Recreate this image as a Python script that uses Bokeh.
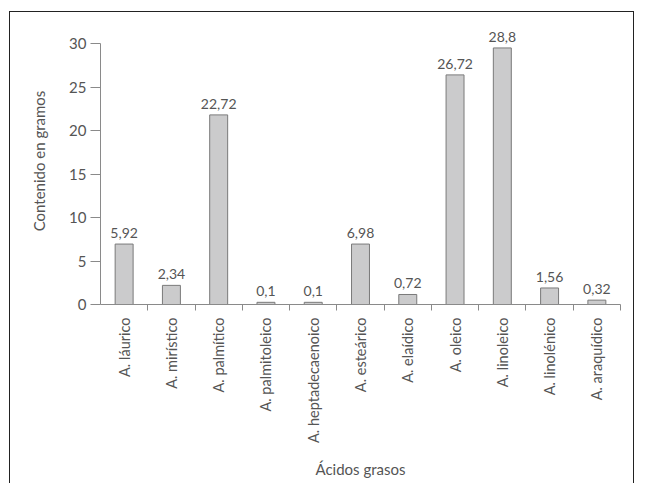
import math
from bokeh.plotting import figure
from bokeh.models import FixedTicker, ColumnDataSource, Range1d
from bokeh.core.properties import value
from bokeh.embed import file_html
from bokeh.resources import INLINE

acidos = ["A. láurico", "A. mirístico", "A. palmítico", "A. palmitoleico",
          "A. heptadecaenoico", "A. esteárico", "A. elaídico", "A. oleico",
          "A. linoleico", "A. linolénico", "A. araquídico"]
alturas = [6.95, 2.2, 21.8, 0.25, 0.25, 6.95, 1.15, 26.4, 29.5, 1.9, 0.5]
etiquetas = ["5,92", "2,34", "22,72", "0,1", "0,1", "6,98", "0,72",
             "26,72", "28,8", "1,56", "0,32"]
y_ticks = [0, 5, 10, 15, 20, 25, 30]

FONT = "Lato"
TXT = "#555555"
AX = "#8a8a8a"

n = len(acidos)
centros = [i + 0.5 for i in range(n)]
src = ColumnDataSource(dict(x=centros, top=alturas, lab=etiquetas))

W, H = 625, 472
p = figure(width=W, height=H, output_backend="svg", toolbar_location=None,
           x_range=Range1d(0, n), y_range=Range1d(0, 33),
           min_border_left=90, min_border_right=15, min_border_top=5,
           min_border_bottom=180)
p.styles = {"margin-left": "9px", "margin-top": "11px",
            "border-left": "1.5px solid #222", "border-top": "1.5px solid #222",
            "border-right": "1.5px solid #222"}
p.outline_line_color = None
p.xgrid.visible = False
p.ygrid.visible = False

p.vbar(x="x", top="top", bottom=0, width=0.38, source=src,
       fill_color="#cbcbcc", line_color="#7a7a7a", line_width=1)
p.text(x="x", y="top", text="lab", source=src, text_align="center",
       text_baseline="alphabetic", y_offset=-11, text_font=value(FONT),
       text_font_size="14px", text_color=TXT)

ya = p.yaxis[0]
ya.ticker = FixedTicker(ticks=y_ticks)
ya.bounds = (0, 30)
ya.axis_line_color = AX
ya.major_tick_line_color = AX
ya.major_tick_out = 10
ya.major_tick_in = 0
ya.minor_tick_line_color = None
ya.major_label_text_font = FONT
ya.major_label_text_font_size = "15px"
ya.major_label_text_color = TXT
ya.major_label_standoff = 4
ya.axis_label = "Contenido en gramos"
ya.axis_label_text_font = FONT
ya.axis_label_text_font_size = "15px"
ya.axis_label_text_font_style = "normal"
ya.axis_label_text_color = TXT
ya.axis_label_standoff = 18

xa = p.xaxis[0]
xa.ticker = FixedTicker(ticks=centros, minor_ticks=list(range(1, n + 1)))
xa.major_label_overrides = {c: a for c, a in zip(centros, acidos)}
xa.axis_line_color = AX
xa.major_tick_line_color = None
xa.major_tick_out = 0
xa.major_tick_in = 0
xa.minor_tick_line_color = AX
xa.minor_tick_out = 6
xa.minor_tick_in = 0
xa.major_label_orientation = math.pi / 2
xa.major_label_text_font = FONT
xa.major_label_text_font_size = "14.5px"
xa.major_label_text_color = TXT
xa.major_label_standoff = 7
xa.axis_label = "Ácidos grasos"
xa.axis_label_text_font = FONT
xa.axis_label_text_font_size = "15px"
xa.axis_label_text_font_style = "normal"
xa.axis_label_text_color = TXT
xa.axis_label_standoff = 14

open("out.html", "w").write(file_html(p, INLINE))
